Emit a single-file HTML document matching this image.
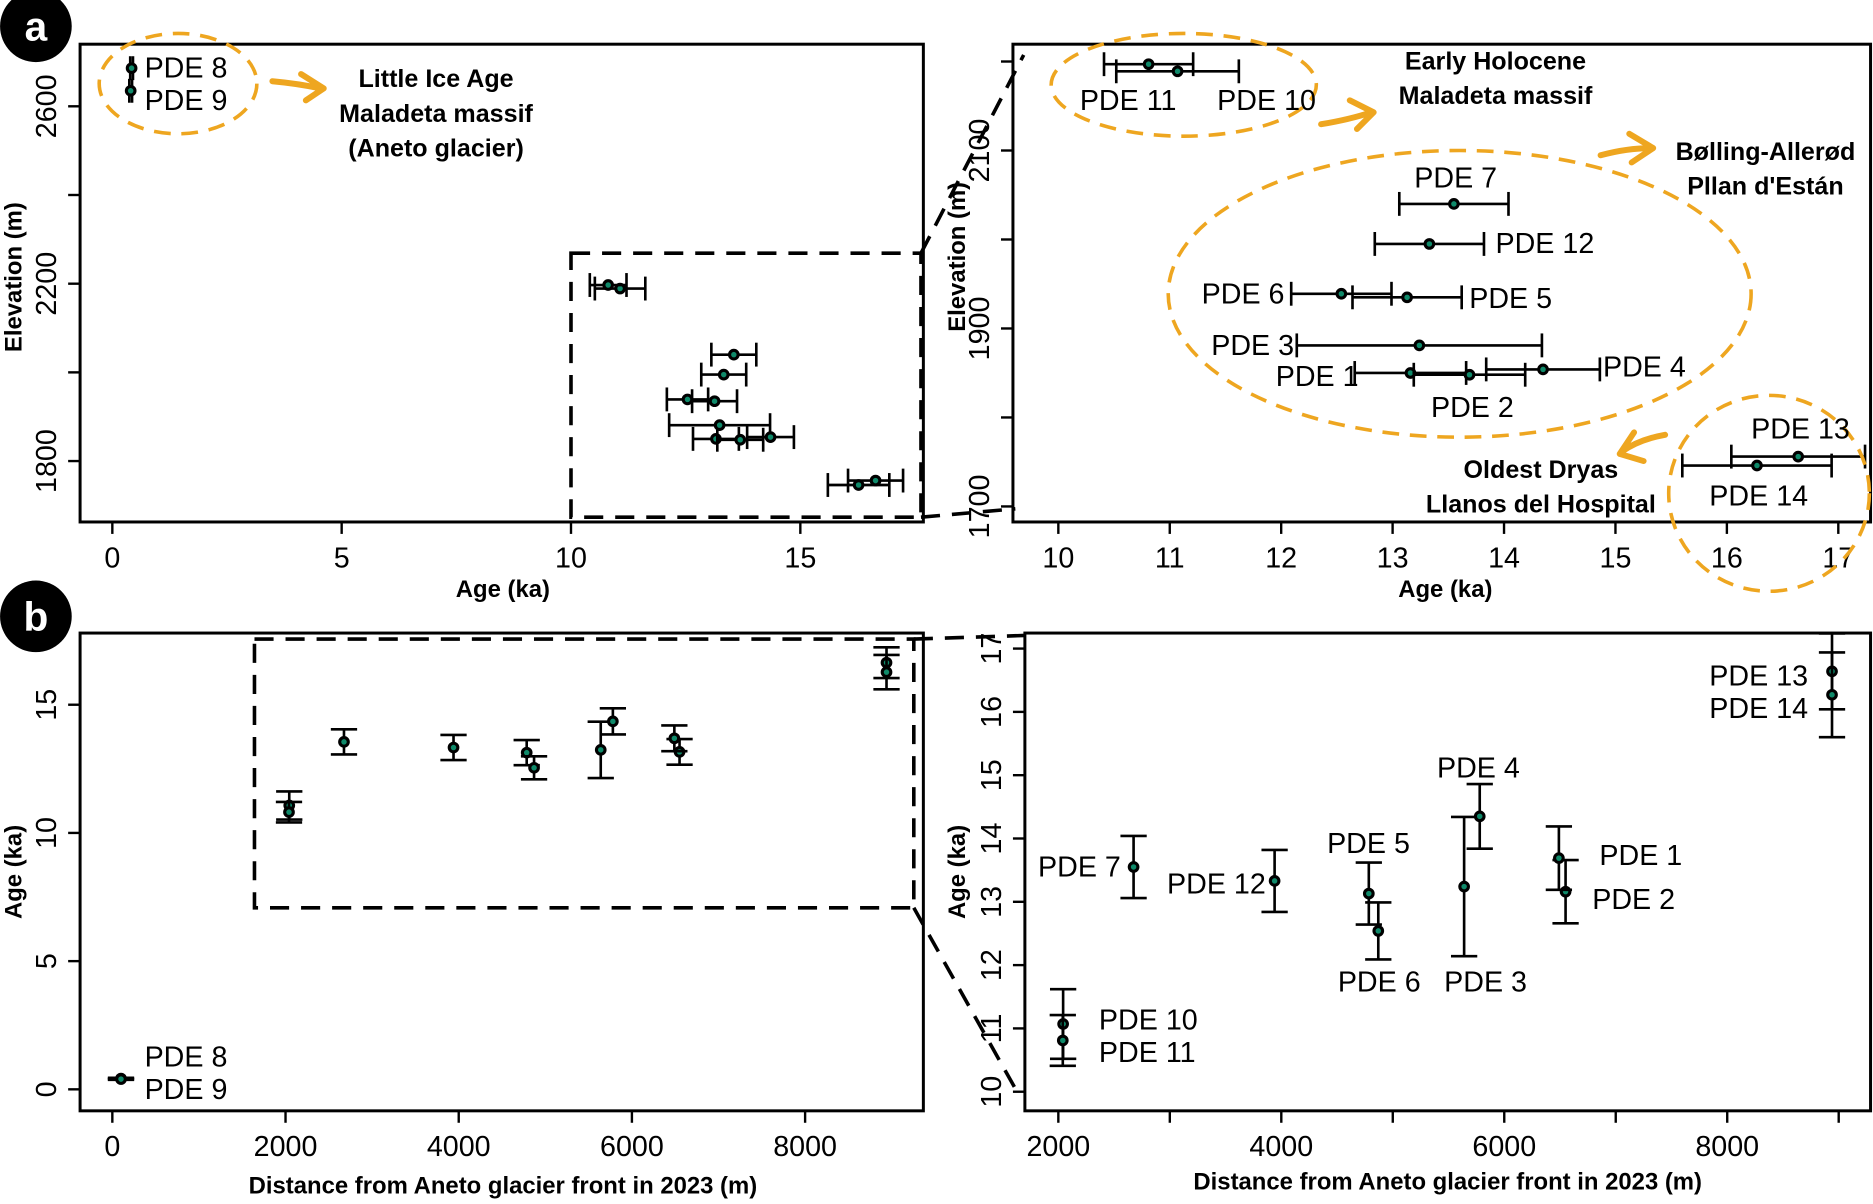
<!DOCTYPE html>
<html><head><meta charset="utf-8">
<style>
html,body{margin:0;padding:0;background:#fff;overflow:hidden;}
svg{display:block;}
text{font-family:"Liberation Sans Narrow","Liberation Sans",sans-serif;fill:#000;}
.tk{font-size:24px;}
.ttl{font-size:20px;font-weight:bold;font-family:"Liberation Sans",sans-serif;}
.lbl{font-size:24px;}
.ann{font-size:21px;font-weight:bold;font-family:"Liberation Sans",sans-serif;}
</style></head>
<body>
<svg id="fig" width="1873" height="1204" viewBox="0 0 1568 1008" xmlns="http://www.w3.org/2000/svg">
</svg>
<script>
// ---- data ----
const names = ["PDE 1","PDE 2","PDE 3","PDE 4","PDE 5","PDE 6","PDE 7","PDE 8","PDE 9","PDE 10","PDE 11","PDE 12","PDE 13","PDE 14"];
const ages = [13.16,13.69,13.24,14.35,13.13,12.54,13.55,0.42,0.40,11.07,10.81,13.33,16.64,16.27];
const ageErr = [0.5,0.5,1.1,0.51,0.49,0.45,0.49,0.03,0.03,0.55,0.4,0.49,0.6,0.67];
const elevations = [1850,1848,1881,1854,1935,1939,2040,2686,2635,2189,2197,1995,1756,1746];
const distances = [6550,6490,5640,5780,4785,4870,2675,100,100,2043,2040,3940,8940,8940];

const xTicksA1 = [0,5,10,15], yTicksA1 = [1800,2000,2200,2400,2600], yLabA1=[1800,2200,2600];
const xTicksA2 = [10,11,12,13,14,15,16,17], yTicksA2=[1700,1800,1900,2000,2100,2200], yLabA2=[1700,1900,2100];
const xTicksB1 = [0,2000,4000,6000,8000], yTicksB1=[0,5,10,15];
const xTicksB2 = [2000,3000,4000,5000,6000,7000,8000,9000], xLabB2=[2000,4000,6000,8000], yTicksB2=[10,11,12,13,14,15,16,17];

const NS="http://www.w3.org/2000/svg";
const svg=document.getElementById('fig');
function el(tag,attrs,parent){const e=document.createElementNS(NS,tag);for(const k in attrs)e.setAttribute(k,attrs[k]);(parent||svg).appendChild(e);return e;}
function lin(d0,d1,r0,r1){return v=>r0+(v-d0)*(r1-r0)/(d1-d0);}

const panels=[
 {id:'a-left',box:[67,37,773,437],sx:lin(0,15,94,670),sy:lin(1800,2600,386,89),xv:'age',yv:'elev',xt:xTicksA1,xl:xTicksA1,yt:yTicksA1,yl:yLabA1,xerr:true},
 {id:'a-right',box:[848,37,1566,437],sx:lin(10,17,886,1539),sy:lin(1700,2100,424,126),xv:'age',yv:'elev',xt:xTicksA2,xl:xTicksA2,yt:yTicksA2,yl:yLabA2,xerr:true,clip:true},
 {id:'b-left',box:[67,530,773,930],sx:lin(0,8000,94,674),sy:lin(0,15,912,590),xv:'dist',yv:'age',xt:xTicksB1,xl:xTicksB1,yt:yTicksB1,yl:yTicksB1,xerr:false},
 {id:'b-right',box:[858,530,1566,930],sx:lin(2000,8000,886,1446),sy:lin(10,17,914,543),xv:'dist',yv:'age',xt:xTicksB2,xl:xLabB2,yt:yTicksB2,yl:yTicksB2,xerr:false,clip:true}
];

panels.forEach((p,pi)=>{
  const g=el('g',{});
  
  
  const [x0,y0,x1,y1]=p.box;
  const cp=el('clipPath',{id:'clip'+pi},g);
  el('rect',{x:x0,y:y0,width:x1-x0,height:y1-y0},cp);
  p.xt.forEach(v=>{const x=p.sx(v);
    const t=el('line',{x1:x,x2:x,y1:y1,y2:y1+10,stroke:'#000','stroke-width':2},g);
    });
  p.xl.forEach(v=>{const x=p.sx(v);
    const t=el('text',{x:x,y:y1+38,'text-anchor':'middle',class:'tk'},g);t.textContent=v;
    });
  p.yt.forEach(v=>{const y=p.sy(v);
    const t=el('line',{x1:x0-10,x2:x0,y1:y,y2:y,stroke:'#000','stroke-width':2},g);
    });
  p.yl.forEach(v=>{const y=p.sy(v);const lx=x0-20;
    const t=el('text',{x:lx,y:y,'text-anchor':'middle',class:'tk',transform:`rotate(-90 ${lx} ${y})`},g);t.textContent=v;
    });
  const mg=el('g',p.clip?{'clip-path':`url(#clip${pi})`}:{},g);
  names.forEach((n,i)=>{
    const xv=p.xv==='age'?ages[i]:distances[i];
    const yv=p.yv==='elev'?elevations[i]:ages[i];
    const x=p.sx(xv), y=p.sy(yv);
    const eg=el('g',{},mg);
    
    
    if(p.xerr){const a=p.sx(ages[i]-ageErr[i]),b=p.sx(ages[i]+ageErr[i]);
      el('line',{x1:a,x2:b,y1:y,y2:y,stroke:'#000','stroke-width':2.2},eg);
      el('line',{x1:a,x2:a,y1:y-10,y2:y+10,stroke:'#000','stroke-width':2.2},eg);
      el('line',{x1:b,x2:b,y1:y-10,y2:y+10,stroke:'#000','stroke-width':2.2},eg);
    } else {const a=p.sy(ages[i]-ageErr[i]),b=p.sy(ages[i]+ageErr[i]);
      el('line',{x1:x,x2:x,y1:a,y2:b,stroke:'#000','stroke-width':2.2},eg);
      el('line',{x1:x-11,x2:x+11,y1:a,y2:a,stroke:'#000','stroke-width':2.2},eg);
      el('line',{x1:x-11,x2:x+11,y1:b,y2:b,stroke:'#000','stroke-width':2.2},eg);}
    el('circle',{cx:x,cy:y,r:3.6,fill:'#0f8a6a',stroke:'#000','stroke-width':2.6},eg);
  });
  const fr=el('rect',{x:x0,y:y0,width:x1-x0,height:y1-y0,fill:'none',stroke:'#000','stroke-width':2.5},g);
  
});
</script>
<script>
(function(){
const NS="http://www.w3.org/2000/svg";const svg=document.getElementById('fig');
const html=`
<g fill="none" stroke="#000" stroke-width="3" stroke-dasharray="16,10">
<rect x="478" y="212" width="293" height="221"/>
<line x1="771" y1="212" x2="857" y2="46"/>
<line x1="771" y1="433" x2="850" y2="426"/>
<rect x="213" y="535" width="552" height="225"/>
<line x1="765" y1="535" x2="858" y2="532"/>
<line x1="765" y1="760" x2="852" y2="915"/>
</g>
<g fill="none" stroke="#eea620" stroke-width="3" stroke-dasharray="14,9">
<ellipse cx="149" cy="70" rx="66" ry="42"/>
<ellipse cx="991" cy="71" rx="111" ry="43"/>
<ellipse cx="1222" cy="246" rx="244" ry="120"/>
<ellipse cx="1481" cy="413" rx="84" ry="82"/>
</g>
<g fill="none" stroke="#eea620" stroke-width="5" stroke-linecap="round" stroke-linejoin="round">
<path d="M228 68 Q250 70 268 74 M252 62 L271 74 L256 84"/>
<path d="M1106 104 Q1130 100 1148 94 M1130 84 L1150 94 L1136 108"/>
<path d="M1340 130 Q1362 124 1382 124 M1364 112 L1384 124 L1366 136"/>
<path d="M1394 364 Q1372 368 1358 378 M1368 362 L1356 380 L1376 386"/>
</g>
<g>
<text class="lbl" x="121" y="65">PDE 8</text>
<text class="lbl" x="121" y="92">PDE 9</text>
<text class="lbl" x="904" y="92">PDE 11</text>
<text class="lbl" x="1019" y="92">PDE 10</text>
<text class="lbl" x="1184" y="157">PDE 7</text>
<text class="lbl" x="1252" y="212">PDE 12</text>
<text class="lbl" x="1006" y="254">PDE 6</text>
<text class="lbl" x="1230" y="258">PDE 5</text>
<text class="lbl" x="1014" y="297">PDE 3</text>
<text class="lbl" x="1342" y="315">PDE 4</text>
<text class="lbl" x="1068" y="323">PDE 1</text>
<text class="lbl" x="1198" y="349">PDE 2</text>
<text class="lbl" x="1466" y="367">PDE 13</text>
<text class="lbl" x="1431" y="423">PDE 14</text>
<text class="lbl" x="121" y="893">PDE 8</text>
<text class="lbl" x="121" y="920">PDE 9</text>
<text class="lbl" x="869" y="734">PDE 7</text>
<text class="lbl" x="977" y="748">PDE 12</text>
<text class="lbl" x="1111" y="714">PDE 5</text>
<text class="lbl" x="1120" y="830">PDE 6</text>
<text class="lbl" x="1209" y="830">PDE 3</text>
<text class="lbl" x="1203" y="651">PDE 4</text>
<text class="lbl" x="1339" y="724">PDE 1</text>
<text class="lbl" x="1333" y="761">PDE 2</text>
<text class="lbl" x="920" y="862">PDE 10</text>
<text class="lbl" x="920" y="889">PDE 11</text>
<text class="lbl" x="1431" y="574">PDE 13</text>
<text class="lbl" x="1431" y="601">PDE 14</text>
</g>
<g text-anchor="middle">
<text class="ann" x="365" y="73">Little Ice Age</text>
<text class="ann" x="365" y="102">Maladeta massif</text>
<text class="ann" x="365" y="131">(Aneto glacier)</text>
<text class="ann" x="1252" y="58">Early Holocene</text>
<text class="ann" x="1252" y="87">Maladeta massif</text>
<text class="ann" x="1478" y="134">Bølling-Allerød</text>
<text class="ann" x="1478" y="163">Pllan d'Están</text>
<text class="ann" x="1290" y="400">Oldest Dryas</text>
<text class="ann" x="1290" y="429">Llanos del Hospital</text>
</g>
<g text-anchor="middle">
<text class="ttl" x="421" y="500">Age (ka)</text>
<text class="ttl" x="1210" y="500">Age (ka)</text>
<text class="ttl" x="18" y="232" transform="rotate(-90 18 232)">Elevation (m)</text>
<text class="ttl" x="808" y="215" transform="rotate(-90 808 215)">Elevation (m)</text>
<text class="ttl" x="18" y="730" transform="rotate(-90 18 730)">Age (ka)</text>
<text class="ttl" x="808" y="730" transform="rotate(-90 808 730)">Age (ka)</text>
<text class="ttl" x="421" y="999">Distance from Aneto glacier front in 2023 (m)</text>
<text class="ttl" x="1212" y="996">Distance from Aneto glacier front in 2023 (m)</text>
</g>
<g><circle cx="30" cy="22" r="30" fill="#000"/><text x="30" y="34" text-anchor="middle" style="fill:#fff;font-size:34px;font-weight:bold;font-family:'Liberation Sans',sans-serif">a</text></g>
<g><circle cx="30" cy="516" r="30" fill="#000"/><text x="30" y="528" text-anchor="middle" style="fill:#fff;font-size:34px;font-weight:bold;font-family:'Liberation Sans',sans-serif">b</text></g>
`;
const tmp=document.createElementNS(NS,'g');
tmp.innerHTML=html;
while(tmp.firstChild)svg.appendChild(tmp.firstChild);
})();
</script>
</body></html>
